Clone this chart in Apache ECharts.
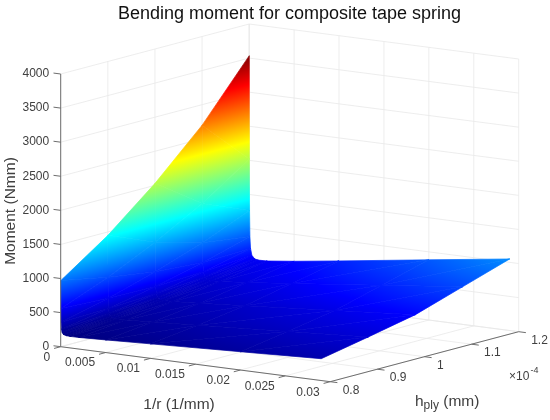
<!DOCTYPE html>
<html>
<head>
<meta charset="utf-8">
<style>html,body{margin:0;padding:0;background:#fff}#chart{width:550px;height:420px}</style>
<script src="https://cdn.jsdelivr.net/npm/echarts@6/dist/echarts.min.js"></script>
</head>
<body>
<div id="chart"></div>
<script>
// values
var curvature = [0.00001, 0.00002, 0.00004, 0.00008, 0.00015, 0.0003, 0.0006, 0.001, 0.002, 0.005, 0.01, 0.02, 0.029];
var hPly = [0.8, 0.9, 1.0, 1.1, 1.2]; // x 1e-4 mm
var moment08 = [970, 562, 359, 257, 210, 184, 172, 169, 170, 185, 213, 269, 320];
var moment09 = [1450, 836, 529, 377, 305, 265, 247, 242, 244, 264, 304, 383, 456];
var moment10 = [2030, 1165, 732, 517, 417, 361, 335, 327, 330, 355, 405, 508, 600];
var moment11 = [2700, 1549, 975, 687, 553, 479, 445, 436, 439, 477, 547, 693, 825];
var moment12 = [3536, 2021, 1264, 886, 710, 612, 567, 554, 558, 605, 696, 883, 1050];
var momentRows = [moment08, moment09, moment10, moment11, moment12];

var rTicks = [0, 0.005, 0.01, 0.015, 0.02, 0.025, 0.03];
var hTicks = [0.8, 0.9, 1, 1.1, 1.2];
var momentTicks = [0, 500, 1000, 1500, 2000, 2500, 3000, 3500, 4000];

var FONT = '"Liberation Sans", Arial, sans-serif';
var TEXT = '#404040';

// jet colormap
var jetStops = [[0, 0, 0, 128], [0.125, 0, 0, 255], [0.375, 0, 255, 255], [0.625, 255, 255, 0], [0.875, 255, 0, 0], [1, 128, 0, 0]];
var cMin = 169, cMax = 3536;

function jet(m) {
    var t = Math.max(0, Math.min(1, (m - cMin) / (cMax - cMin)));
    for (var i = 1; i < jetStops.length; i++) {
        if (t <= jetStops[i][0]) {
            var a = jetStops[i - 1], b = jetStops[i];
            var f = (t - a[0]) / (b[0] - a[0]);
            return 'rgb(' + [1, 2, 3].map(function (k) { return Math.round(a[k] + (b[k] - a[k]) * f); }).join(',') + ')';
        }
    }
}

// oblique view of the 3d box, result goes through the hidden page axes
function view(r, h, m) {
    return [
        60.7 + r / 0.03 * 269.5 + (h - 0.8) / 0.4 * 188.5,
        346.7 + r / 0.03 * 35 - (h - 0.8) / 0.4 * 50 - m / 4000 * 272.7
    ];
}

function gradient(start, end, zMin, zMax) {
    var stops = [{ offset: 0, color: jet(zMin) }];
    jetStops.forEach(function (s) {
        var at = cMin + s[0] * (cMax - cMin);
        if (at > zMin && at < zMax) {
            stops.push({ offset: (at - zMin) / (zMax - zMin), color: jet(at) });
        }
    });
    stops.push({ offset: 1, color: jet(zMax) });
    return new echarts.graphic.LinearGradient(start[0], start[1], end[0], end[1], stops, true);
}

// colour varies linearly over a triangle so one gradient covers it
function triangleFill(p, z) {
    var zMin = Math.min(z[0], z[1], z[2]), zMax = Math.max(z[0], z[1], z[2]);
    if (zMax - zMin < 1) {
        return jet((zMin + zMax) / 2);
    }
    var dx1 = p[1][0] - p[0][0], dy1 = p[1][1] - p[0][1], dz1 = z[1] - z[0];
    var dx2 = p[2][0] - p[0][0], dy2 = p[2][1] - p[0][1], dz2 = z[2] - z[0];
    var det = dx1 * dy2 - dx2 * dy1;

    // sliver triangles: cross gradient is huge, just run the colour along the long edge
    var longest = 0, ends = null;
    [[0, 1], [1, 2], [2, 0]].forEach(function (e) {
        var d = Math.sqrt(Math.pow(p[e[0]][0] - p[e[1]][0], 2) + Math.pow(p[e[0]][1] - p[e[1]][1], 2));
        if (d > longest) { longest = d; ends = e; }
    });
    if (Math.abs(det) / longest < 3) {
        var lo = z[ends[0]] < z[ends[1]] ? ends[0] : ends[1];
        var hi = lo === ends[0] ? ends[1] : ends[0];
        if (z[hi] - z[lo] < 1) {
            return jet((z[hi] + z[lo]) / 2);
        }
        return gradient(p[lo], p[hi], z[lo], z[hi]);
    }

    var gx = (dz1 * dy2 - dz2 * dy1) / det;
    var gy = (dx1 * dz2 - dx2 * dz1) / det;
    var len2 = gx * gx + gy * gy;
    var start = p[z.indexOf(zMin)];
    return gradient(start, [start[0] + gx * (zMax - zMin) / len2, start[1] + gy * (zMax - zMin) / len2], zMin, zMax);
}

// surface cells
var cells = [];
for (var i = 0; i < hPly.length - 1; i++) {
    for (var j = curvature.length - 2; j >= 0; j--) {
        cells.push([curvature[j], curvature[j + 1], hPly[i], hPly[i + 1],
            momentRows[i][j], momentRows[i][j + 1], momentRows[i + 1][j], momentRows[i + 1][j + 1]]);
    }
}

// walls and floor grid
var gridSegs = [];
momentTicks.forEach(function (m) {
    gridSegs.push([0, 0.8, m, 0, 1.2, m]);
    gridSegs.push([0, 1.2, m, 0.03, 1.2, m]);
});
hTicks.forEach(function (h) {
    gridSegs.push([0, h, 0, 0, h, 4000]);
    gridSegs.push([0, h, 0, 0.03, h, 0]);
});
rTicks.forEach(function (r) {
    gridSegs.push([r, 1.2, 0, r, 1.2, 4000]);
    gridSegs.push([r, 0.8, 0, r, 1.2, 0]);
});

// axis lines and tick marks
var axisSegs = [
    [0, 0.8, 0, 0, 0.8, 4000],
    [0, 0.8, 0, 0.03, 0.8, 0],
    [0.03, 0.8, 0, 0.03, 1.2, 0]
];
momentTicks.forEach(function (m) { axisSegs.push([0, 0.8, m, -0.0008, 0.8, m]); });
rTicks.forEach(function (r) { axisSegs.push([r, 0.8, 0, r, 0.786, 0]); });
hTicks.forEach(function (h) { axisSegs.push([0.03, h, 0, 0.0308, h, 0]); });

function lineItem(api, color, width) {
    var a = api.coord(view(api.value(0), api.value(1), api.value(2)));
    var b = api.coord(view(api.value(3), api.value(4), api.value(5)));
    return {
        type: 'line',
        shape: { x1: a[0], y1: a[1], x2: b[0], y2: b[1] },
        style: { stroke: color, lineWidth: width, fill: null }
    };
}

function tickText(label, x, y, align) {
    return {
        type: 'text', silent: true,
        style: { x: x, y: y, text: label, fill: TEXT, font: '12px ' + FONT, align: align, verticalAlign: 'middle' }
    };
}

// one cell shaded like an interpolated surface
function renderCell(params, api) {
    var r1 = api.value(0), r2 = api.value(1), h1 = api.value(2), h2 = api.value(3);
    var z = [api.value(4), api.value(5), api.value(7), api.value(6)];
    var p = [api.coord(view(r1, h1, z[0])), api.coord(view(r2, h1, z[1])),
        api.coord(view(r2, h2, z[2])), api.coord(view(r1, h2, z[3]))];
    return {
        type: 'group',
        children: [[0, 1, 2], [0, 2, 3]].map(function (t) {
            var pts = t.map(function (k) { return p[k]; });
            var fill = triangleFill(pts, t.map(function (k) { return z[k]; }));
            return {
                type: 'polygon',
                shape: { points: pts },
                style: { fill: fill, stroke: fill, lineWidth: 0.7, lineJoin: 'bevel' }
            };
        })
    };
}

var chart = echarts.init(document.getElementById('chart'), null, { renderer: 'canvas' });
chart.setOption({
    animation: false,
    backgroundColor: '#fff',
    title: {
        text: 'Bending moment for composite tape spring',
        left: 284.5, top: 0, textAlign: 'center',
        textStyle: { fontFamily: FONT, fontSize: 18, fontWeight: 'normal', color: '#111' }
    },
    grid: { left: 0, top: 0, width: 550, height: 420 },
    xAxis: { type: 'value', min: 0, max: 550, show: false },
    yAxis: { type: 'value', min: 0, max: 420, inverse: true, show: false },
    series: [
        {
            type: 'custom', name: 'grid', silent: true, clip: false, z: 1,
            data: gridSegs,
            renderItem: function (params, api) { return lineItem(api, '#e8e8e8', 0.8); }
        },
        {
            type: 'custom', name: 'moment', silent: true, clip: false, z: 2,
            data: cells,
            renderItem: renderCell
        },
        {
            type: 'custom', name: 'axes', silent: true, clip: false, z: 3,
            data: axisSegs,
            renderItem: function (params, api) { return lineItem(api, '#6e6e6e', 1); }
        },
        {
            type: 'custom', name: 'momentLabels', silent: true, clip: false, z: 4,
            data: momentTicks.map(function (m) { return [m]; }),
            renderItem: function (params, api) {
                var p = api.coord(view(0, 0.8, api.value(0)));
                return tickText(String(api.value(0)), p[0] - 11.5, p[1], 'right');
            }
        },
        {
            type: 'custom', name: 'rLabels', silent: true, clip: false, z: 4,
            data: rTicks.map(function (r) { return [r]; }),
            renderItem: function (params, api) {
                var p = api.coord(view(api.value(0), 0.8, 0));
                return tickText(String(api.value(0)), p[0] - 10.5, p[1] + 10.5, 'right');
            }
        },
        {
            type: 'custom', name: 'hLabels', silent: true, clip: false, z: 4,
            data: hTicks.map(function (h) { return [h]; }),
            renderItem: function (params, api) {
                var p = api.coord(view(0.03, api.value(0), 0));
                return tickText(String(api.value(0)), p[0] + 12.5, p[1] + 8.7, 'left');
            }
        }
    ],
    graphic: [
        {
            type: 'text', silent: true, x: 179, y: 405,
            style: { text: '1/r (1/mm)', fill: TEXT, font: '15.5px ' + FONT, align: 'center', verticalAlign: 'middle' }
        },
        {
            type: 'text', silent: true, x: 415, y: 402,
            style: {
                text: '{a|h}{b|ply}{a| (mm)}', fill: TEXT, align: 'left', verticalAlign: 'middle',
                rich: {
                    a: { font: '15.5px ' + FONT, fill: TEXT },
                    b: { font: '12px ' + FONT, fill: TEXT, verticalAlign: 'bottom', padding: [8, 0, 0, 0] }
                }
            }
        },
        {
            type: 'text', silent: true, x: 11, y: 211, rotation: Math.PI / 2,
            style: { text: 'Moment (Nmm)', fill: TEXT, font: '15.5px ' + FONT, align: 'center', verticalAlign: 'middle' }
        },
        {
            type: 'text', silent: true, x: 509, y: 377,
            style: { text: '\u00d710', fill: TEXT, font: '12px ' + FONT, align: 'left', verticalAlign: 'middle' }
        },
        {
            type: 'text', silent: true, x: 530.5, y: 371,
            style: { text: '-4', fill: TEXT, font: '9px ' + FONT, align: 'left', verticalAlign: 'middle' }
        }
    ]
});
</script>
</body>
</html>
